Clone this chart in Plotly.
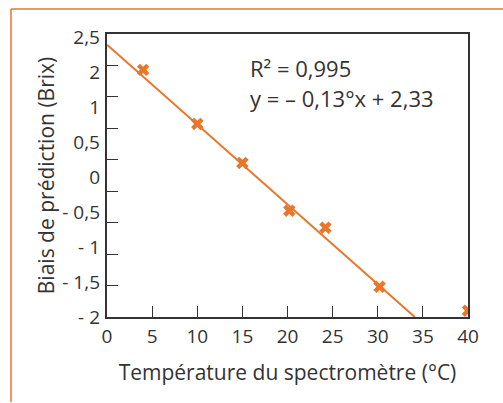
import plotly.graph_objects as go

# Data
temp_c = [4, 10, 15, 20.2, 24.2, 30.2, 40]
bias_brix = [1.93, 1.07, 0.45, -0.31, -0.58, -1.52, -1.9]

fit_x = [0, 34.1]
fit_y = [2.33, -2.0]

x_ticks = [0, 5, 10, 15, 20, 25, 30, 35, 40]
y_ticks = [-2, -1.5, -1, -0.5, 0, 0.5, 1, 1.5, 2, 2.5]
# labels printed on the original (one fewer than tick marks)
y_labels = ["- 2", "- 1,5", "- 1", "- 0,5", "0", "0,5", "1", "2", "2,5"]

ORANGE = "#E8762C"
TXT = "#333333"
FONT = "Open Sans"

fig = go.Figure()
fig.add_trace(go.Scatter(x=fit_x, y=fit_y, mode="lines",
                         line=dict(color=ORANGE, width=2), showlegend=False,
                         hoverinfo="skip"))
fig.add_trace(go.Scatter(x=temp_c, y=bias_brix, mode="markers",
                         marker=dict(symbol="x", size=11, color=ORANGE,
                                     line=dict(width=0)),
                         showlegend=False))
# empty trace so the label axis is drawn
fig.add_trace(go.Scatter(x=[], y=[], yaxis="y2", showlegend=False,
                         hoverinfo="skip"))

fig.add_annotation(x=15.6, y=1.96, xref="x", yref="y", xanchor="left",
                   yanchor="middle", showarrow=False, text="R² = 0,995",
                   font=dict(family=FONT, size=22, color=TXT))
fig.add_annotation(x=15.6, y=1.48, xref="x", yref="y", xanchor="left",
                   yanchor="middle", showarrow=False,
                   text="y = – 0,13°x + 2,33",
                   font=dict(family=FONT, size=22, color=TXT))

# outer orange frame (top and left edges)
fig.add_shape(type="line", xref="paper", yref="paper",
              x0=-0.266, x1=1.2, y0=1.088, y1=1.088,
              line=dict(color=ORANGE, width=1.5))
fig.add_shape(type="line", xref="paper", yref="paper",
              x0=-0.266, x1=-0.266, y0=1.088, y1=-0.3,
              line=dict(color=ORANGE, width=1.5))

fig.update_layout(
    width=503, height=403,
    margin=dict(l=107, r=35, t=34, b=86),
    paper_bgcolor="white", plot_bgcolor="white",
    font=dict(family=FONT, color=TXT, size=19),
    xaxis=dict(range=[0, 40], tickvals=x_ticks, ticks="inside", ticklen=11,
               tickcolor=TXT, tickwidth=1.2, showline=True, linecolor=TXT,
               linewidth=1.5, mirror=True, showgrid=False, zeroline=False,
               tickfont=dict(size=19, color=TXT), ticklabelstandoff=1,
               title=dict(text="Température du spectromètre (°C)",
                          font=dict(size=21, color=TXT), standoff=18)),
    yaxis=dict(range=[-2, 2.5], tickvals=y_ticks, ticks="inside", ticklen=11,
               tickcolor=TXT, tickwidth=1.2, showline=True, linecolor=TXT,
               linewidth=1.5, mirror=True, showgrid=False, zeroline=False,
               showticklabels=False),
    yaxis2=dict(overlaying="y", side="left", range=[-0.002, 8.11],
                tickvals=list(range(len(y_labels))), ticktext=y_labels,
                ticks="", showline=False, showgrid=False, zeroline=False,
                tickfont=dict(size=19, color=TXT), ticklabelstandoff=6,
                title=dict(text="Biais de prédiction (Brix)",
                           font=dict(size=21, color=TXT), standoff=1)),
)

fig.write_html("out.html")
